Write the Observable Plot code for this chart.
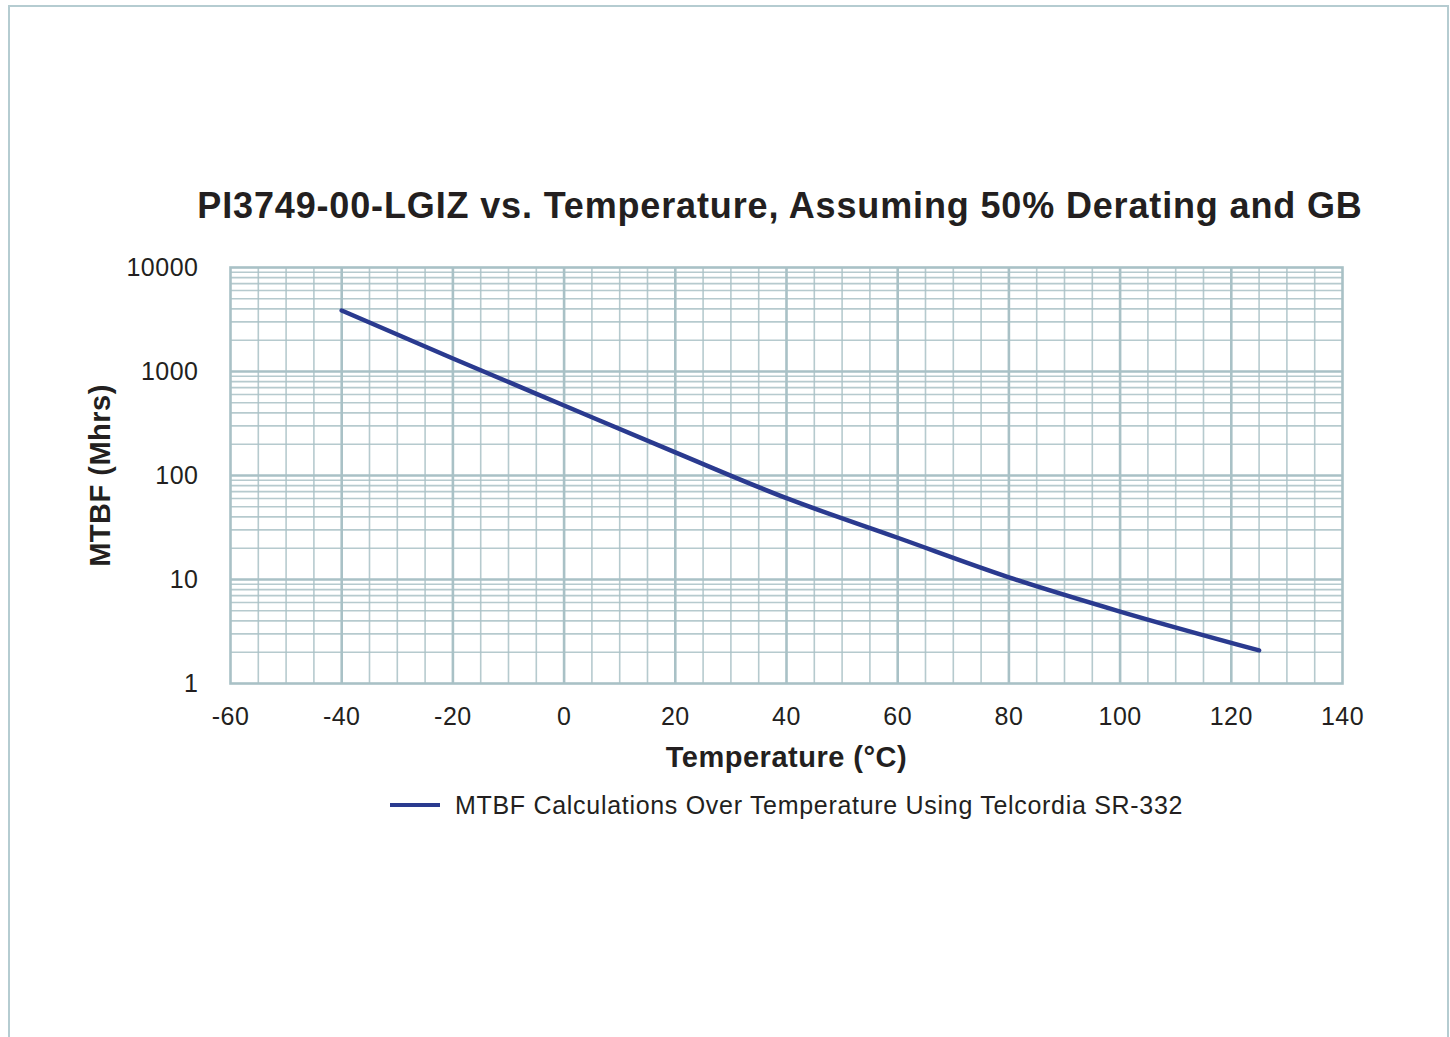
<!DOCTYPE html>
<html>
<head>
<meta charset="utf-8">
<script src="https://cdn.jsdelivr.net/npm/d3@7"></script>
<script src="https://cdn.jsdelivr.net/npm/@observablehq/plot@0.6"></script>
<style>
  html, body { margin: 0; padding: 0; background: #fff; }
  body { width: 1450px; height: 1037px; position: relative; overflow: hidden; font-family: "Liberation Sans", Arial, sans-serif; }
  #border { position: absolute; left: 8px; top: 5px; width: 1437px; height: 1040px; border-left: 2px solid #b5ccd1; border-top: 2px solid #b5ccd1; border-right: 2px solid #b5ccd1; }
  #title { position: absolute; left: 0; width: 1560px; top: 185px; text-align: center; font-weight: bold; font-size: 36px; letter-spacing: 0.85px; color: #231f20; white-space: nowrap; }
  #chart { position: absolute; left: 0; top: 230px; }
  #chart svg text { letter-spacing: 0.5px; }
  #legend { position: absolute; left: 390px; top: 790px; height: 30px; display: flex; align-items: center; font-size: 25px; letter-spacing: 0.7px; color: #231f20; white-space: nowrap; }
  #legend .swatch { width: 50px; height: 0; border-top: 4px solid #2a3a8f; margin-right: 15px; }
</style>
</head>
<body>
<div id="border"></div>
<div id="title">PI3749-00-LGIZ vs. Temperature, Assuming 50% Derating and GB</div>
<div id="chart"></div>
<div id="legend"><div class="swatch"></div><span>MTBF Calculations Over Temperature Using Telcordia SR-332</span></div>
<script>
const temperatures = [-40, -20, 0, 20, 40, 60, 80, 100, 125];
const mtbfMhrs = [3860, 1334, 471, 167, 60.5, 25.2, 10.5, 4.92, 2.08];
const xTicks = [-60, -40, -20, 0, 20, 40, 60, 80, 100, 120, 140];
const yTicks = [1, 10, 100, 1000, 10000];
const seriesName = "MTBF Calculations Over Temperature Using Telcordia SR-332";

const data = temperatures.map((t, i) => ({t, v: mtbfMhrs[i], s: seriesName}));

const minorX = d3.range(-55, 140, 5).filter(d => d % 20 !== 0);
const majorX = xTicks.filter(d => d > -60 && d < 140);
const minorY = [];
for (const dec of [1, 10, 100, 1000]) for (let k = 2; k <= 9; k++) minorY.push(dec * k);
const majorY = yTicks.filter(d => d > 1 && d < 10000);

const gridColor = "#a9c1c6";
const font = "'Liberation Sans', Arial, sans-serif";

const plot = Plot.plot({
  width: 1450,
  height: 560,
  marginLeft: 230,
  marginRight: 108,
  marginTop: 37,
  marginBottom: 107,
  style: {fontFamily: font, color: "#231f20", background: "transparent"},
  x: {domain: [-60, 140]},
  y: {type: "log", domain: [1, 10000]},
  marks: [
    Plot.ruleX(minorX, {stroke: gridColor, strokeWidth: 1.6, strokeOpacity: 0.85}),
    Plot.ruleY(minorY, {stroke: gridColor, strokeWidth: 1.6, strokeOpacity: 0.85}),
    Plot.ruleX(majorX, {stroke: gridColor, strokeWidth: 2.6}),
    Plot.ruleY(majorY, {stroke: gridColor, strokeWidth: 2.6}),
    Plot.frame({stroke: gridColor, strokeWidth: 2.6}),
    Plot.axisX({ticks: xTicks, tickSize: 0, tickPadding: 24, fontSize: 25, label: null, tickFormat: d => String(d)}),
    Plot.axisY({ticks: yTicks, tickSize: 0, tickPadding: 32, fontSize: 25, label: null, tickFormat: d => String(d)}),
    Plot.text(["Temperature (°C)"], {frameAnchor: "bottom", dy: 74, fontSize: 29, fontWeight: "bold", lineAnchor: "middle", fill: "#231f20"}),
    Plot.text(["MTBF (Mhrs)"], {frameAnchor: "left", dx: -130, rotate: -90, fontSize: 29, fontWeight: "bold", textAnchor: "middle", lineAnchor: "middle", fill: "#231f20"}),
    Plot.line(data, {x: "t", y: "v", stroke: "#2a3a8f", strokeWidth: 4.5, curve: "monotone-x"})
  ]
});
document.getElementById("chart").appendChild(plot);
</script>
</body>
</html>
